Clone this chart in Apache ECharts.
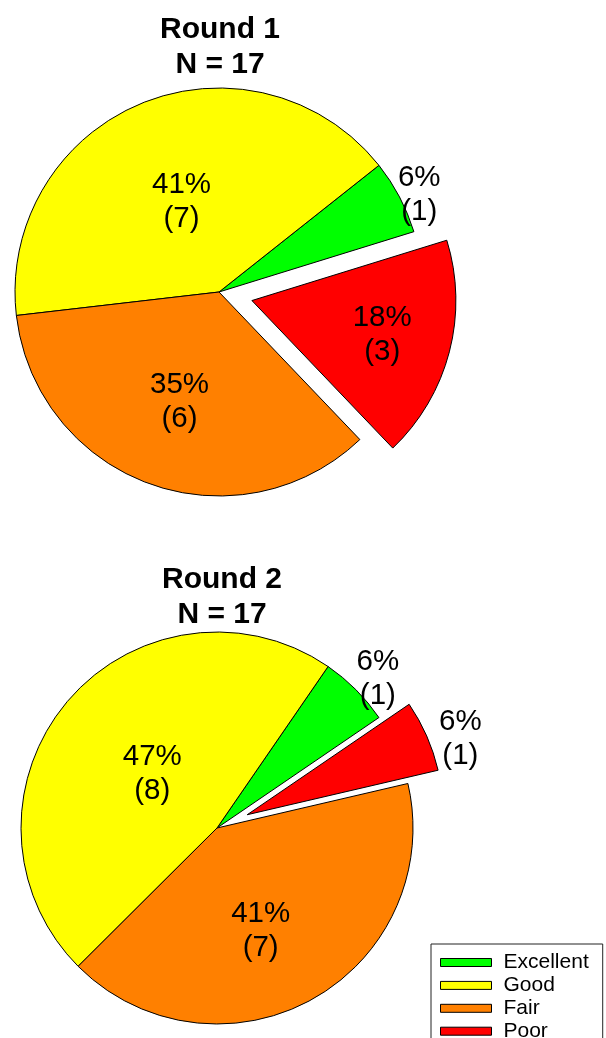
<!DOCTYPE html>
<html>
<head>
<meta charset="utf-8">
<script src="https://cdn.jsdelivr.net/npm/echarts@6/dist/echarts.min.js"></script>
<style>
  html, body { margin: 0; padding: 0; background: #ffffff; }
  #chart { width: 606px; height: 1038px; }
</style>
</head>
<body>
<div id="chart"></div>
<script>
// Ratings given in each round
const categories = ['Excellent', 'Good', 'Fair', 'Poor'];
const round1Counts = [1, 7, 6, 3];
const round2Counts = [1, 8, 7, 1];
const roundTitles = ['Round 1', 'Round 2'];
const explodedCategory = 'Poor';

const sliceColors = ['#00FF00', '#FFFF00', '#FF8000', '#FF0000'];
const FONT = '"Liberation Sans", Arial, Helvetica, sans-serif';

// Per-pie layout: centre, radius, start angle, explode distance,
// label distance as a fraction of the radius and a small angular nudge (degrees).
const pies = [
  { counts: round1Counts, title: roundTitles[0], center: [219, 292], radius: 204,
    startAngle: 17.2, explode: 34, titleX: 220, titleTop: 15,
    labelR: [1.09, 0.48, 0.57, 0.66], labelTurn: [-2, 0, 0, 0] },
  { counts: round2Counts, title: roundTitles[1], center: [217, 828], radius: 196,
    startAngle: 34.3, explode: 33, titleX: 222, titleTop: 565,
    labelR: [1.12, 0.43, 0.57, 1.155], labelTurn: [-2, 0, -6, -4] }
];

function sum(arr) { return arr.reduce((a, b) => a + b, 0); }

// Mid angle (degrees) of every slice, slices running counter-clockwise from startAngle
function midAngles(counts, start) {
  const total = sum(counts);
  let acc = 0;
  return counts.map(v => {
    const a = start + (acc + v / 2) / total * 360;
    acc += v;
    return a;
  });
}

const titleStyle = { fontFamily: FONT, fontSize: 30, fontWeight: 'bold', color: '#000', lineHeight: 30 };

const option = {
  animation: false,
  backgroundColor: '#ffffff',
  title: pies.map(p => ({
    text: p.title,
    subtext: 'N = ' + sum(p.counts),
    left: p.titleX,
    top: p.titleTop,
    textAlign: 'center',
    padding: 0,
    itemGap: 5,
    textStyle: titleStyle,
    subtextStyle: titleStyle
  })),
  legend: {
    orient: 'vertical',
    left: 431,
    top: 944,
    height: 160,
    padding: [7.5, 14, 6, 9],
    itemWidth: 51,
    itemHeight: 8,
    itemGap: 0.9,
    icon: 'rect',
    selectedMode: false,
    borderColor: '#222',
    borderWidth: 1,
    backgroundColor: '#ffffff',
    itemStyle: { borderColor: '#000', borderWidth: 1 },
    textStyle: { fontFamily: FONT, fontSize: 21, lineHeight: 22, color: '#000', padding: [0, 0, 0, 7] },
    data: categories
  },
  series: pies.map(p => {
    const total = sum(p.counts);
    const mids = midAngles(p.counts, p.startAngle);
    return {
      type: 'pie',
      center: p.center,
      radius: p.radius,
      startAngle: p.startAngle,
      clockwise: false,
      selectedMode: 'multiple',
      selectedOffset: p.explode,
      avoidLabelOverlap: false,
      itemStyle: { borderColor: '#000', borderWidth: 1 },
      select: { itemStyle: { borderColor: '#000', borderWidth: 1 } },
      emphasis: { disabled: true },
      label: {
        show: true,
        position: 'center',
        fontFamily: FONT,
        fontSize: 29.5,
        lineHeight: 34,
        color: '#000',
        formatter: d => Math.round(d.value / total * 100) + '%\n(' + d.value + ')'
      },
      labelLine: { show: false },
      labelLayout: params => {
        const i = params.dataIndex;
        const r = p.labelR[i] * p.radius;
        const a = (mids[i] + p.labelTurn[i]) * Math.PI / 180;
        return { dx: r * Math.cos(a), dy: -r * Math.sin(a) };
      },
      data: categories.map((name, i) => ({
        name: name,
        value: p.counts[i],
        selected: name === explodedCategory,
        itemStyle: { color: sliceColors[i] }
      }))
    };
  })
};

const chart = echarts.init(document.getElementById('chart'), null, { renderer: 'canvas' });
chart.setOption(option);
</script>
</body>
</html>
